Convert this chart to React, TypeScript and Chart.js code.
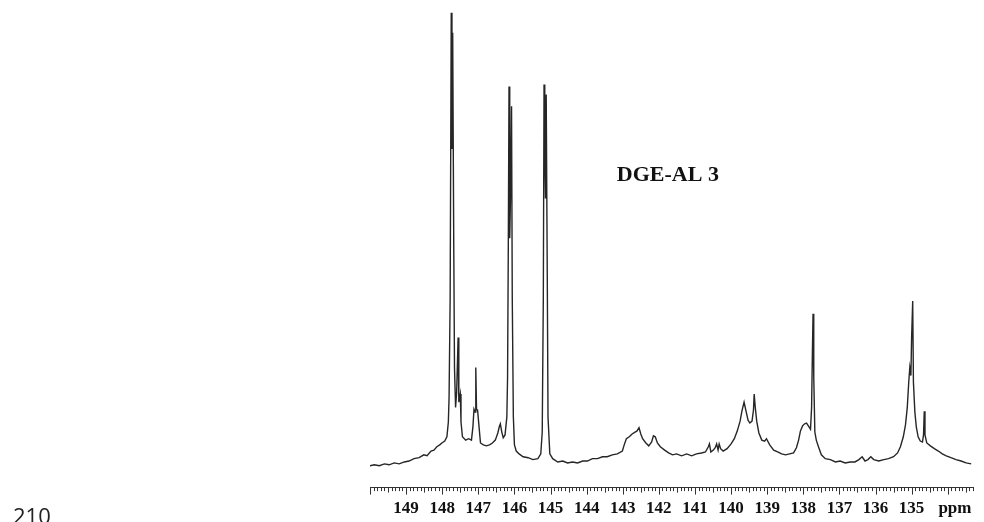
import React, { useEffect, useRef } from "react";
import { Chart, registerables } from "chart.js";

Chart.register(...registerables);

// 13C NMR spectrum, chemical shift (ppm) and relative intensity (%)
const shiftPpm = [
  150.0, 149.88, 149.74, 149.6, 149.47, 149.33, 149.19, 149.05, 148.92, 148.78,
  148.64, 148.51, 148.42, 148.31, 148.23, 148.15, 148.07, 148.01, 147.93, 147.87,
  147.83, 147.81, 147.78, 147.75, 147.73, 147.71, 147.68, 147.66, 147.63, 147.6,
  147.56, 147.54, 147.5, 147.48, 147.44, 147.35, 147.27, 147.19, 147.15, 147.12,
  147.09, 147.07, 147.05, 147.02, 146.98, 146.94, 146.86, 146.78, 146.69, 146.61,
  146.53, 146.46, 146.42, 146.39, 146.35, 146.31, 146.26, 146.21, 146.19, 146.17,
  146.15, 146.13, 146.11, 146.08, 146.06, 146.03, 146.0, 145.95, 145.87, 145.76,
  145.62, 145.49, 145.35, 145.27, 145.23, 145.2, 145.18, 145.16, 145.14, 145.12,
  145.09, 145.07, 145.02, 144.94, 144.8, 144.66, 144.53, 144.39, 144.25, 144.11,
  143.98, 143.84, 143.7, 143.56, 143.43, 143.29, 143.15, 143.01, 142.96, 142.9,
  142.82, 142.74, 142.66, 142.61, 142.55, 142.5, 142.45, 142.36, 142.28, 142.2,
  142.15, 142.1, 142.04, 141.96, 141.84, 141.73, 141.62, 141.51, 141.37, 141.23,
  141.09, 140.96, 140.82, 140.71, 140.63, 140.6, 140.56, 140.49, 140.44, 140.4,
  140.36, 140.33, 140.29, 140.22, 140.11, 140.0, 139.91, 139.83, 139.75, 139.7,
  139.64, 139.58, 139.53, 139.48, 139.42, 139.38, 139.36, 139.33, 139.29, 139.23,
  139.15, 139.07, 139.02, 138.93, 138.82, 138.71, 138.6, 138.49, 138.38, 138.27,
  138.19, 138.13, 138.08, 138.02, 137.97, 137.91, 137.86, 137.8, 137.77, 137.75,
  137.73, 137.71, 137.68, 137.64, 137.58, 137.5, 137.39, 137.25, 137.11, 136.98,
  136.84, 136.7, 136.57, 136.46, 136.37, 136.29, 136.21, 136.13, 136.05, 135.91,
  135.77, 135.64, 135.5, 135.39, 135.31, 135.23, 135.17, 135.12, 135.08, 135.05,
  135.02, 135.0, 134.97, 134.95, 134.91, 134.87, 134.82, 134.76, 134.7, 134.67,
  134.65, 134.63, 134.58, 134.48, 134.37, 134.26, 134.15, 134.04, 133.91, 133.77,
  133.63, 133.49, 133.35,
];

const relIntensity = [
  4.6, 4.8, 4.6, 5.0, 4.8, 5.2, 5.0, 5.4, 5.6, 6.1,
  6.3, 6.9, 6.7, 7.7, 7.9, 8.6, 9.0, 9.4, 9.8, 10.7,
  13.8, 19.0, 40.0, 100.0, 71.3, 95.8, 50.4, 25.3, 16.9, 20.1,
  31.6, 18.0, 19.7, 13.8, 10.7, 10.0, 10.3, 10.0, 12.8, 16.5,
  15.9, 25.3, 16.5, 16.3, 12.8, 9.4, 9.0, 8.8, 9.0, 9.4,
  10.0, 11.5, 12.8, 13.4, 11.7, 10.5, 11.1, 14.9, 23.2, 50.4,
  84.5, 52.5, 60.9, 80.3, 40.0, 14.9, 9.0, 7.7, 7.1, 6.5,
  6.3, 5.9, 6.1, 7.1, 11.7, 40.0, 84.9, 71.3, 60.9, 82.8,
  44.1, 14.9, 7.1, 6.1, 5.4, 5.6, 5.2, 5.4, 5.2, 5.6,
  5.6, 6.1, 6.1, 6.5, 6.5, 6.9, 7.1, 7.7, 9.0, 10.3,
  10.7, 11.3, 11.7, 11.9, 12.6, 11.3, 10.3, 9.4, 8.8, 9.6,
  10.9, 10.7, 9.4, 8.6, 7.9, 7.3, 6.9, 7.1, 6.7, 7.1,
  6.7, 7.1, 7.3, 7.5, 8.6, 9.2, 7.5, 7.9, 8.4, 9.2,
  7.9, 9.2, 8.2, 7.7, 8.2, 9.2, 10.3, 11.9, 14.0, 16.1,
  18.0, 15.9, 14.2, 13.6, 14.0, 16.3, 19.7, 16.9, 14.0, 11.5,
  10.0, 9.8, 10.3, 9.0, 7.9, 7.5, 7.1, 6.9, 7.1, 7.3,
  8.4, 10.0, 11.9, 13.0, 13.4, 13.6, 13.0, 12.3, 16.9, 27.4,
  36.6, 23.2, 11.7, 10.0, 8.6, 6.9, 6.1, 5.9, 5.4, 5.6,
  5.2, 5.4, 5.4, 5.9, 6.5, 5.6, 5.9, 6.5, 5.9, 5.6,
  5.9, 6.1, 6.5, 7.3, 8.6, 10.7, 13.2, 16.9, 22.2, 25.3,
  23.6, 31.6, 39.3, 22.2, 15.9, 12.8, 10.7, 9.8, 9.6, 11.1,
  16.1, 11.1, 9.4, 8.8, 8.2, 7.7, 7.1, 6.7, 6.3, 5.9,
  5.6, 5.2, 5.0,
];

const labeledShifts = [149, 148, 147, 146, 145, 144, 143, 142, 141, 140, 139, 138, 137, 136, 135];
const unitLabel = "ppm";
const unitLabelAt = 133.8;
const axisMinPpm = 133.3;
const axisMaxPpm = 150.0;
const sampleName = "DGE-AL 3";
const sampleNameAt = { ppm: 141.75, intensity: 64.6 };
const pageNumber = "210";

const near = (a: number, b: number) => Math.abs(a - b) < 1e-6;

const tickMarksPlugin = {
  id: "tickMarks",
  afterDraw(chart: any) {
    const sc = chart.scales.x;
    const ctx = chart.ctx;
    ctx.save();
    ctx.strokeStyle = "#333";
    ctx.lineWidth = 1;
    const y0 = sc.top;
    sc.ticks.forEach((t: any) => {
      const tenth = Math.round(t.value * 10);
      if (!near(t.value * 10, tenth)) return;
      const len = tenth % 10 === 0 ? 7 : tenth % 5 === 0 ? 5 : 3.5;
      const x = Math.round(sc.getPixelForValue(t.value)) + 0.5;
      ctx.beginPath();
      ctx.moveTo(x, y0);
      ctx.lineTo(x, y0 + len);
      ctx.stroke();
    });
    ctx.restore();
  },
};

const textPlugin = {
  id: "annotText",
  afterDraw(chart: any) {
    const ctx = chart.ctx;
    const xs = chart.scales.x;
    const ys = chart.scales.y;
    ctx.save();
    ctx.fillStyle = "#111";
    ctx.font = "bold 22px 'Liberation Serif', 'Times New Roman', serif";
    ctx.textAlign = "center";
    ctx.textBaseline = "alphabetic";
    ctx.fillText(sampleName, xs.getPixelForValue(sampleNameAt.ppm), ys.getPixelForValue(sampleNameAt.intensity));
    ctx.font = "22px 'Open Sans', 'Noto Sans', sans-serif";
    ctx.textAlign = "left";
    ctx.fillStyle = "#222";
    ctx.fillText(pageNumber, 13, 524);
    ctx.restore();
  },
};

export default function App() {
  const ref = useRef<HTMLCanvasElement | null>(null);

  useEffect(() => {
    if (!ref.current) return;
    const points = shiftPpm.map((p, i) => ({ x: p, y: relIntensity[i] }));
    const chart = new Chart(ref.current, {
      type: "line",
      data: {
        datasets: [
          {
            data: points,
            borderColor: "#262626",
            borderWidth: 1.4,
            pointRadius: 0,
            tension: 0,
            fill: false,
          },
        ],
      },
      options: {
        animation: false,
        responsive: false,
        devicePixelRatio: 1,
        parsing: false as any,
        layout: { padding: { left: 370, right: 6, top: 0, bottom: -8 } },
        plugins: { legend: { display: false }, tooltip: { enabled: false }, title: { display: false } },
        scales: {
          x: {
            type: "linear",
            reverse: true,
            min: axisMinPpm,
            max: axisMaxPpm,
            grid: { display: false, drawTicks: false, drawOnChartArea: false },
            border: { display: true, color: "#333", width: 1 },
            ticks: {
              stepSize: 0.1,
              autoSkip: false,
              maxRotation: 0,
              minRotation: 0,
              padding: 11,
              color: "#111",
              font: { family: "'Liberation Serif', 'Times New Roman', serif", size: 17, weight: "bold" },
              callback: (v: any) => {
                const n = Number(v);
                if (labeledShifts.some((s) => near(s, n))) return String(Math.round(n));
                if (near(n, unitLabelAt)) return unitLabel;
                return "";
              },
            },
          },
          y: {
            type: "linear",
            display: false,
            min: 0,
            max: 102.7,
          },
        },
      },
      plugins: [tickMarksPlugin, textPlugin],
    });
    return () => chart.destroy();
  }, []);

  return (
    <div style={{ position: "fixed", left: 0, top: 0, width: 984, height: 522, background: "#fff" }}>
      <canvas ref={ref} width={984} height={522} style={{ display: "block" }} />
    </div>
  );
}
